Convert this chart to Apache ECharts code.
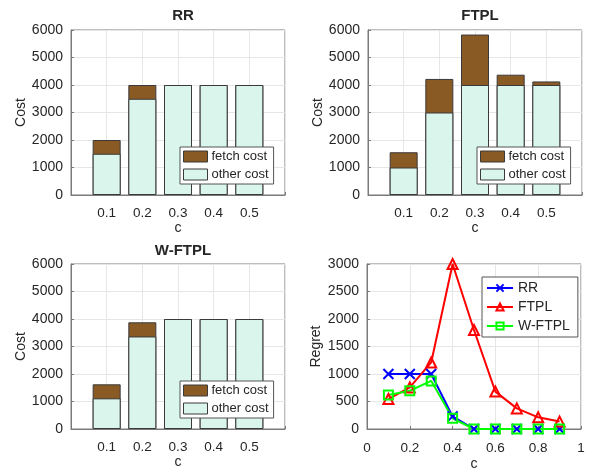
<!DOCTYPE html>
<html>
<head>
<meta charset="utf-8">
<script src="https://cdn.jsdelivr.net/npm/echarts@6/dist/echarts.min.js"></script>
<style>html,body{margin:0;padding:0;background:#fff}#c{width:592px;height:472px}</style>
</head>
<body>
<div id="c"></div>
<script>
// ---- data ----
var categories = ['0.1', '0.2', '0.3', '0.4', '0.5'];
var rrOther = [1500, 3500, 4000, 4000, 4000];
var rrFetch = [500, 500, 0, 0, 0];
var ftplOther = [1000, 3000, 4000, 4000, 4000];
var ftplFetch = [555, 1220, 1835, 375, 130];
var wftplOther = [1115, 3365, 4000, 4000, 4000];
var wftplFetch = [510, 515, 0, 0, 0];

var regretX = [0.1, 0.2, 0.3, 0.4, 0.5, 0.6, 0.7, 0.8, 0.9];
var regretRR = [1000, 1000, 1000, 230, 0, 0, 0, 0, 0];
var regretFTPL = [545, 755, 1210, 3000, 1800, 680, 375, 212, 135];
var regretWFTPL = [618, 695, 875, 195, 0, 0, 0, 0, 0];

var costTicks = [0, 1000, 2000, 3000, 4000, 5000, 6000];
var regretTicks = [0, 500, 1000, 1500, 2000, 2500, 3000];

var FONT = 'Liberation Sans';
var TXT = '#262626';
var FRAME = '#7a7a7a';
var GRIDC = '#e6e6e6';
var BROWN = '#8a5a25';
var MINT = '#d9f5ec';

function pairs(xs, ys) { return ys.map(function (v, i) { return [xs[i], v]; }); }
var catPos = categories.map(function (c, i) { return i + 1; });

var grids = [
  {left: 71, top: 30, width: 214, height: 165},
  {left: 368, top: 30, width: 214, height: 165},
  {left: 71, top: 264, width: 214, height: 165},
  {left: 367, top: 264, width: 214, height: 165}
].map(function (g) { g.show = true; g.borderColor = FRAME; g.borderWidth = 1; g.backgroundColor = '#fff'; return g; });

function axisCommon(fs) {
  return {
    axisLine: {show: true, lineStyle: {color: FRAME, width: 1}},
    axisTick: {show: true, inside: true, length: 3, lineStyle: {color: FRAME}},
    axisLabel: {color: TXT, fontFamily: FONT, fontSize: fs},
    splitLine: {show: true, lineStyle: {color: GRIDC, width: 1}},
    nameTextStyle: {color: TXT, fontFamily: FONT, fontSize: 14}
  };
}

var xAxes = [], yAxes = [];
for (var g = 0; g < 3; g++) {
  var xa = axisCommon(13.5);
  xa.type = 'value'; xa.gridIndex = g; xa.min = 0; xa.max = 6; xa.interval = 1;
  xa.axisLabel.margin = 11;
  xa.axisLabel.formatter = function (v) { return (v >= 1 && v <= categories.length) ? categories[v - 1] : ''; };
  xa.name = 'c'; xa.nameLocation = 'middle'; xa.nameGap = 26;
  xAxes.push(xa);
  var ya = axisCommon(14);
  ya.type = 'value'; ya.gridIndex = g; ya.min = costTicks[0]; ya.max = costTicks[costTicks.length - 1]; ya.interval = 1000;
  ya.axisLabel.margin = 8;
  ya.axisLabel.formatter = function (v) { return String(v); };
  ya.name = 'Cost'; ya.nameLocation = 'middle'; ya.nameGap = 42;
  yAxes.push(ya);
}
var xl = axisCommon(13.5);
xl.type = 'value'; xl.gridIndex = 3; xl.min = 0; xl.max = 1; xl.interval = 0.2;
xl.axisLabel.margin = 12;
xl.axisLabel.formatter = function (v) { return String(Math.round(v * 10) / 10); };
xl.name = 'c'; xl.nameLocation = 'middle'; xl.nameGap = 28;
xAxes.push(xl);
var yl = axisCommon(14);
yl.type = 'value'; yl.gridIndex = 3; yl.min = regretTicks[0]; yl.max = regretTicks[regretTicks.length - 1]; yl.interval = 500;
yl.axisLabel.margin = 8;
yl.axisLabel.formatter = function (v) { return String(v); };
yl.name = 'Regret'; yl.nameLocation = 'middle'; yl.nameGap = 44;
yAxes.push(yl);

var series = [];
var barSets = [[rrOther, rrFetch], [ftplOther, ftplFetch], [wftplOther, wftplFetch]];
barSets.forEach(function (s, i) {
  // fetch cost sits on top of other cost: drawn as the full stacked height, other cost over it
  var totals = s[0].map(function (v, k) { return v + s[1][k]; });
  series.push({
    type: 'bar', name: 'fetch cost', xAxisIndex: i, yAxisIndex: i,
    barWidth: 28, barGap: '-100%', data: pairs(catPos, totals),
    itemStyle: {color: BROWN, borderColor: '#3a3a3a', borderWidth: 1},
    emphasis: {disabled: true}
  });
  series.push({
    type: 'bar', name: 'other cost', xAxisIndex: i, yAxisIndex: i,
    barWidth: 28, barGap: '-100%', data: pairs(catPos, s[0]),
    itemStyle: {color: MINT, borderColor: '#3a3a3a', borderWidth: 1},
    emphasis: {disabled: true}
  });
});

function lineSeries(name, ys, color, symbol, size) {
  return {
    type: 'line', name: name, xAxisIndex: 3, yAxisIndex: 3, data: pairs(regretX, ys),
    symbol: symbol, symbolSize: size, showAllSymbol: true,
    lineStyle: {color: color, width: 2},
    itemStyle: {color: 'rgba(255,255,255,0)', borderColor: color, borderWidth: 2},
    color: color,
    emphasis: {disabled: true}
  };
}
series.push(lineSeries('RR', regretRR, '#0000ff', 'path://M0,0L10,10M10,0L0,10', 10));
series.push(lineSeries('FTPL', regretFTPL, '#ff0000', 'triangle', 10));
series.push(lineSeries('W-FTPL', regretWFTPL, '#00ff00', 'rect', 9));

function barLegend(left, top) {
  return {
    show: true, orient: 'vertical', left: left, top: top,
    data: [{name: 'fetch cost', icon: 'rect', itemStyle: {borderWidth: 1, borderColor: '#3a3a3a'}},
           {name: 'other cost', icon: 'rect', itemStyle: {borderWidth: 1, borderColor: '#3a3a3a'}}],
    itemWidth: 24, itemHeight: 11, itemGap: 5,
    padding: [3, 5, 3, 3],
    backgroundColor: '#fff', borderColor: '#555', borderWidth: 1,
    textStyle: {color: TXT, fontFamily: FONT, fontSize: 13, padding: [0, 0, 0, -1]},
    selectedMode: false
  };
}

var titleStyle = {color: TXT, fontFamily: FONT, fontSize: 15, fontWeight: 'bold'};

var option = {
  animation: false,
  backgroundColor: '#fff',
  title: [
    {text: 'RR', left: 178, top: 3, textAlign: 'center', textStyle: titleStyle},
    {text: 'FTPL', left: 475, top: 3, textAlign: 'center', textStyle: titleStyle},
    {text: 'W-FTPL', left: 178, top: 238, textAlign: 'center', textStyle: titleStyle}
  ],
  grid: grids,
  xAxis: xAxes,
  yAxis: yAxes,
  legend: [
    barLegend(180, 147),
    barLegend(477, 147),
    barLegend(180, 381),
    {
      show: true, orient: 'vertical', left: 482, top: 277,
      data: ['RR', 'FTPL', 'W-FTPL'],
      itemWidth: 26, itemHeight: 9, itemGap: 5,
      padding: [4, 8, 4, 4],
      backgroundColor: '#fff', borderColor: '#555', borderWidth: 1,
      textStyle: {color: TXT, fontFamily: FONT, fontSize: 14},
      selectedMode: false
    }
  ],
  series: series
};

var chart = echarts.init(document.getElementById('c'), null, {renderer: 'canvas'});
chart.setOption(option);
</script>
</body>
</html>
